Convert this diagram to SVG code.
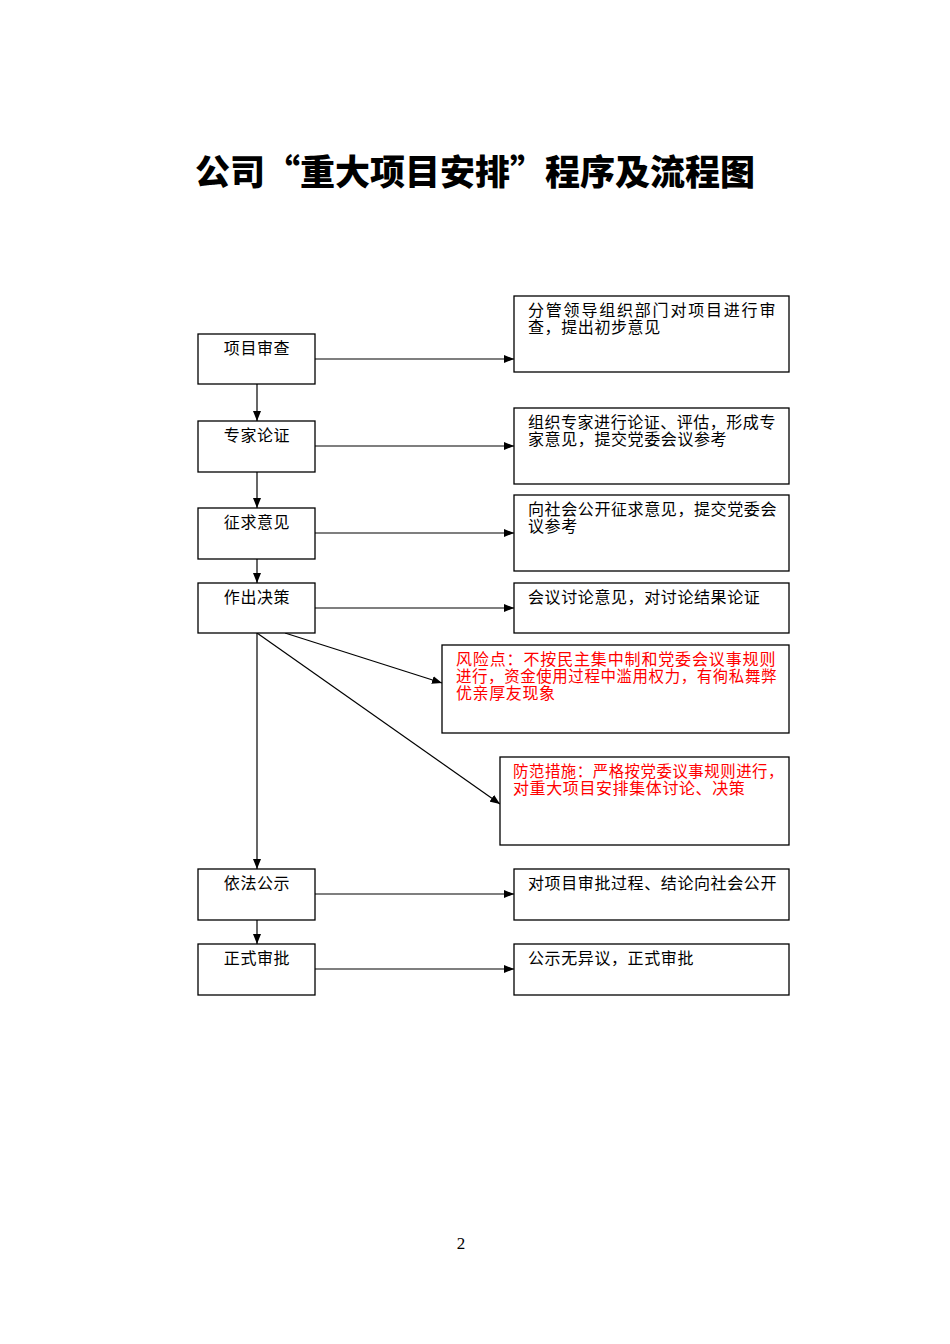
<svg xmlns="http://www.w3.org/2000/svg" width="950" height="1344" viewBox="0 0 950 1344">
<style>
.box{fill:#fff;stroke:#000;stroke-width:1.3}
.t{font-family:"Liberation Serif","Noto Sans CJK SC",sans-serif;font-size:16px;letter-spacing:0.6px;fill:#000}
.r{font-family:"Liberation Serif","Noto Sans CJK SC",sans-serif;font-size:16px;letter-spacing:0.6px;fill:#f00}
.c{text-anchor:middle}
.ln{stroke:#000;stroke-width:1.2;fill:none;marker-end:url(#ah)}
</style>
<defs>
<marker id="ah" viewBox="0 0 10 8" refX="10" refY="4" markerWidth="10" markerHeight="8" markerUnits="userSpaceOnUse" orient="auto">
<path d="M0,0 L10,4 L0,8 Z" fill="#000"/>
</marker>
</defs>
<rect width="950" height="1344" fill="#fff"/>
<text x="475" y="185" text-anchor="middle" font-family="Noto Sans CJK SC, sans-serif" font-weight="900" font-size="35" textLength="560" lengthAdjust="spacingAndGlyphs">公司“重大项目安排”程序及流程图</text>

<g id="connectors">
<line class="ln" x1="315" y1="359" x2="514" y2="359"/>
<line class="ln" x1="315" y1="446" x2="514" y2="446"/>
<line class="ln" x1="315" y1="533" x2="514" y2="533"/>
<line class="ln" x1="315" y1="608" x2="514" y2="608"/>
<line class="ln" x1="315" y1="894" x2="514" y2="894"/>
<line class="ln" x1="315" y1="969" x2="514" y2="969"/>
<line class="ln" x1="257" y1="384" x2="257" y2="421"/>
<line class="ln" x1="257" y1="472" x2="257" y2="508"/>
<line class="ln" x1="257" y1="559" x2="257" y2="583"/>
<line class="ln" x1="257" y1="633" x2="257" y2="869"/>
<line class="ln" x1="257" y1="920" x2="257" y2="944"/>
<line class="ln" x1="285" y1="633" x2="442" y2="683"/>
<line class="ln" x1="257" y1="633" x2="500" y2="804"/>
</g>

<g id="n1"><rect class="box" x="198" y="334" width="117" height="50"/><text class="t c" x="257" y="354">项目审查</text></g>
<g id="n2"><rect class="box" x="198" y="421" width="117" height="51"/><text class="t c" x="257" y="441">专家论证</text></g>
<g id="n3"><rect class="box" x="198" y="508" width="117" height="51"/><text class="t c" x="257" y="528">征求意见</text></g>
<g id="n4"><rect class="box" x="198" y="583" width="117" height="50"/><text class="t c" x="257" y="603">作出决策</text></g>
<g id="n5"><rect class="box" x="198" y="869" width="117" height="51"/><text class="t c" x="257" y="889">依法公示</text></g>
<g id="n6"><rect class="box" x="198" y="944" width="117" height="51"/><text class="t c" x="257" y="964">正式审批</text></g>

<g id="d1"><rect class="box" x="514" y="296" width="275" height="76"/>
<text class="t" x="528" y="316" textLength="248" lengthAdjust="spacing">分管领导组织部门对项目进行审</text>
<text class="t" x="528" y="333">查，提出初步意见</text></g>
<g id="d2"><rect class="box" x="514" y="408" width="275" height="76"/>
<text class="t" x="528" y="428" textLength="248" lengthAdjust="spacing">组织专家进行论证、评估，形成专</text>
<text class="t" x="528" y="445">家意见，提交党委会议参考</text></g>
<g id="d3"><rect class="box" x="514" y="495" width="275" height="76"/>
<text class="t" x="528" y="515" textLength="249" lengthAdjust="spacing">向社会公开征求意见，提交党委会</text>
<text class="t" x="528" y="532">议参考</text></g>
<g id="d4"><rect class="box" x="514" y="583" width="275" height="50"/>
<text class="t" x="528" y="603">会议讨论意见，对讨论结果论证</text></g>
<g id="risk"><rect class="box" x="442" y="645" width="347" height="88"/>
<text class="r" x="456" y="665" textLength="320" lengthAdjust="spacing">风险点：不按民主集中制和党委会议事规则</text>
<text class="r" x="456" y="682" textLength="321" lengthAdjust="spacingAndGlyphs">进行，资金使用过程中滥用权力，有徇私舞弊</text>
<text class="r" x="456" y="699">优亲厚友现象</text></g>
<g id="measure"><rect class="box" x="500" y="757" width="289" height="88"/>
<text class="r" x="513" y="777" textLength="271" lengthAdjust="spacingAndGlyphs">防范措施：严格按党委议事规则进行，</text>
<text class="r" x="513" y="794">对重大项目安排集体讨论、决策</text></g>
<g id="d5"><rect class="box" x="514" y="869" width="275" height="51"/>
<text class="t" x="528" y="889">对项目审批过程、结论向社会公开</text></g>
<g id="d6"><rect class="box" x="514" y="944" width="275" height="51"/>
<text class="t" x="528" y="964">公示无异议，正式审批</text></g>

<text x="461" y="1249" text-anchor="middle" font-family="Liberation Serif, serif" font-size="17">2</text>
</svg>
